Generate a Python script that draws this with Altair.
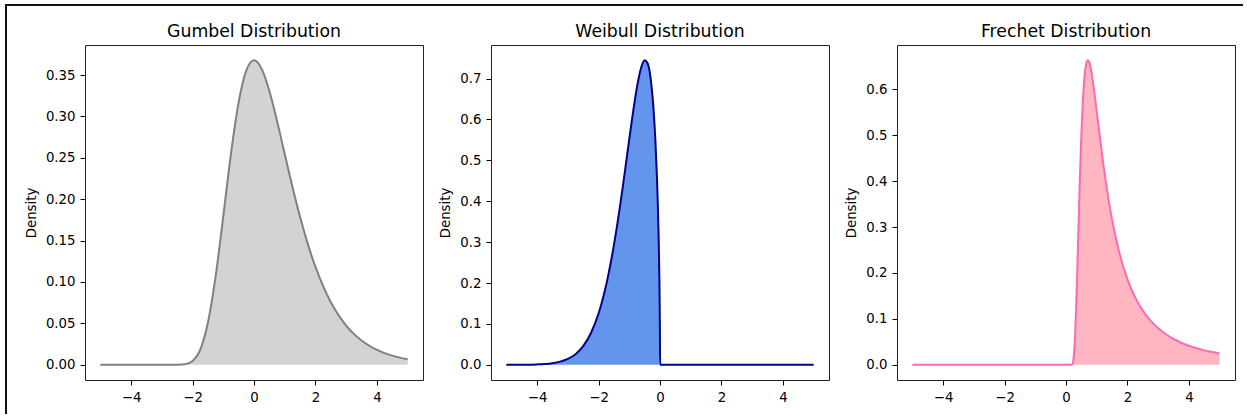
import altair as alt
import pandas as pd

# ---- data ----
gumbel_x = [-5, -4.75, -4.5, -4.25, -4, -3.75, -3.5, -3.25, -3, -2.75, -2.5, -2.25, -2,
            -1.75, -1.5, -1.25, -1, -0.75, -0.5, -0.25, 0, 0.25, 0.5, 0.75, 1, 1.25, 1.5,
            1.75, 2, 2.25, 2.5, 2.75, 3, 3.25, 3.5, 3.75, 4, 4.25, 4.5, 4.75, 5]
gumbel_y = [0, 0, 0, 0, 0, 0, 0, 0, 0, 0.0, 0.0001, 0.0007, 0.0046,
            0.0182, 0.0507, 0.1064, 0.1794, 0.2549, 0.3170, 0.3556, 0.3679, 0.3574, 0.3307, 0.2945, 0.2546, 0.2151, 0.1785,
            0.1461, 0.1182, 0.0949, 0.0756, 0.0600, 0.0474, 0.0373, 0.0293, 0.0230, 0.0180, 0.0141, 0.0110, 0.0086, 0.0067]

weibull_x = [-5, -4.5, -4, -3.75, -3.5, -3.25, -3, -2.75, -2.5, -2.25, -2, -1.9, -1.8, -1.7,
             -1.6, -1.5, -1.4, -1.3, -1.2, -1.1, -1.0, -0.9, -0.8, -0.7, -0.6, -0.5, -0.4,
             -0.3, -0.2, -0.15, -0.1, -0.05, -0.02, -0.005, 0.005, 1, 2, 3, 4, 5]
weibull_y = [0, 0.0002, 0.0010, 0.0020, 0.0040, 0.0077, 0.0144, 0.0260, 0.0455, 0.0770, 0.1254, 0.1507, 0.1799, 0.2132,
             0.2507, 0.2927, 0.3386, 0.3886, 0.4414, 0.4963, 0.5518, 0.6059, 0.6559, 0.6987, 0.7300, 0.7448, 0.7367,
             0.6971, 0.6134, 0.5482, 0.4596, 0.3317, 0.2115, 0.1061, 0, 0, 0, 0, 0, 0]

frechet_x = [-5, 0, 0.1, 0.15, 0.2, 0.25, 0.3, 0.35, 0.4, 0.45, 0.5, 0.55, 0.6, 0.65, 0.7, 0.75,
             0.8, 0.9, 1.0, 1.1, 1.2, 1.3, 1.4, 1.5, 1.75, 2, 2.25, 2.5, 2.75, 3, 3.25, 3.5,
             3.75, 4, 4.25, 4.5, 4.75, 5]
frechet_y = [0, 0, 0, 0, 0.0012, 0.0161, 0.0692, 0.1653, 0.2846, 0.4021, 0.5018, 0.5760, 0.6256, 0.6531, 0.6634, 0.6602,
             0.6478, 0.6051, 0.5518, 0.4968, 0.4444, 0.3965, 0.3537, 0.3158, 0.2404, 0.1862, 0.1469, 0.1179, 0.0961, 0.0794, 0.0664, 0.0562,
             0.0480, 0.0414, 0.0359, 0.0314, 0.0277, 0.0245]

titles = ["Gumbel Distribution", "Weibull Distribution", "Frechet Distribution"]
x_ticks = [-4, -2, 0, 2, 4]
gumbel_ticks = [0.0, 0.05, 0.10, 0.15, 0.20, 0.25, 0.30, 0.35]
weibull_ticks = [0.0, 0.1, 0.2, 0.3, 0.4, 0.5, 0.6, 0.7]
frechet_ticks = [0.0, 0.1, 0.2, 0.3, 0.4, 0.5, 0.6]

FONT = "DejaVu Sans"
W, H = 338, 335


def panel(xs, ys, fill, line, title, ydomain, yticks, yfmt):
    df = pd.DataFrame({"x": xs, "y": ys})
    base = alt.Chart(df)
    xenc = alt.X("x:Q", scale=alt.Scale(domain=[-5.5, 5.5], nice=False, zero=False),
                 axis=alt.Axis(values=x_ticks, format="d", title=None))
    yenc = alt.Y("y:Q", scale=alt.Scale(domain=ydomain, nice=False, zero=False),
                 axis=alt.Axis(values=yticks, format=yfmt, title="Density"))
    area = base.mark_area(color=fill, interpolate="monotone", opacity=1).encode(
        x=xenc, y=yenc, y2=alt.datum(0))
    ln = base.mark_line(color=line, strokeWidth=2, interpolate="monotone").encode(x=xenc, y=yenc)
    return alt.layer(area, ln).properties(
        width=W, height=H,
        title=alt.TitleParams(title, font=FONT, fontSize=17.3, fontWeight="normal",
                              color="black", baseline="alphabetic", offset=-9))


# thin frame (top and left edges of the figure border)
one = alt.Chart(pd.DataFrame({"k": [0]}))
frame_left = one.mark_rule(color="#111111", strokeWidth=2).encode(
    x=alt.value(-10), y=alt.value(-41), y2=alt.value(369))
frame_top = one.mark_rule(color="#111111", strokeWidth=2).encode(
    y=alt.value(-40), x=alt.value(-11), x2=alt.value(1227))
frame = alt.layer(frame_left, frame_top).properties(
    width=1, height=H, view=alt.ViewBackground(strokeOpacity=0))

p1 = panel(gumbel_x, gumbel_y, "#d3d3d3", "#808080", titles[0], [-0.0184, 0.3863], gumbel_ticks, ".2f")
p2 = panel(weibull_x, weibull_y, "#6495ED", "#00008B", titles[1], [-0.0372, 0.7820], weibull_ticks, ".1f")
p3 = panel(frechet_x, frechet_y, "#FFB6C1", "#FF69B4", titles[2], [-0.0332, 0.6966], frechet_ticks, ".1f")

chart = alt.hconcat(frame, p1, p2, p3, spacing=68, bounds="flush").properties(
    padding={"left": 4, "top": 3, "right": 0, "bottom": 0},
    background="white",
).configure_view(
    stroke="#222222", strokeWidth=1
).configure_axis(
    grid=False, domain=False,
    tickColor="black", tickSize=5, tickWidth=1,
    labelFont=FONT, labelFontSize=13.3, labelColor="black", labelPadding=5,
    titleFont=FONT, titleFontSize=13.3, titleFontWeight="normal", titleColor="black", titlePadding=7,
)

chart.save("out.html", embed_options={"renderer": "svg", "actions": False})
